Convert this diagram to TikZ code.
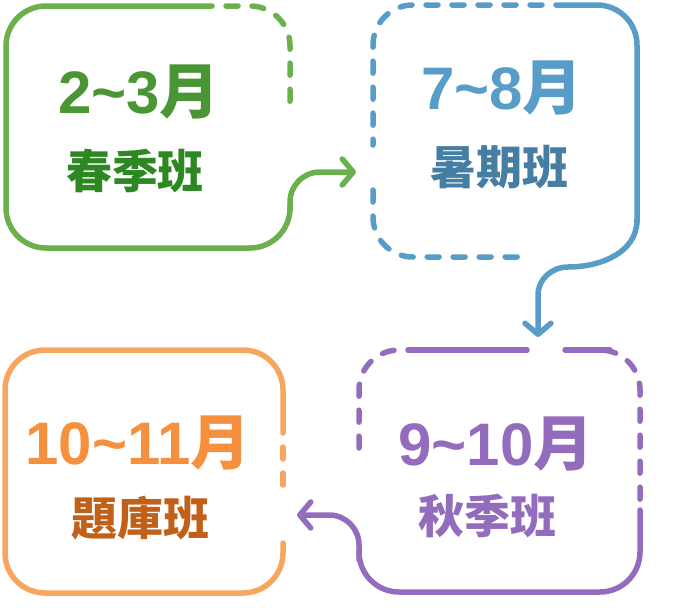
\documentclass[tikz,border=0pt]{standalone}
\usepackage{fontspec}
\setmainfont{Liberation Sans}
\newfontfamily\cjk{Noto Sans CJK TC}
\usetikzlibrary{arrows.meta}
\definecolor{grnline}{RGB}{106,176,76}
\definecolor{grnnum}{RGB}{74,150,52}
\definecolor{grnname}{RGB}{46,136,34}
\definecolor{bluline}{RGB}{88,157,200}
\definecolor{bluname}{RGB}{70,126,163}
\definecolor{purline}{RGB}{148,108,190}
\definecolor{orgline}{RGB}{247,166,96}
\definecolor{orgnum}{RGB}{245,145,62}
\definecolor{orgname}{RGB}{193,96,24}
\begin{document}
\begin{tikzpicture}[x=1pt,y=-1pt, line join=round, line cap=round,
    box/.style={line width=5.5pt, rounded corners=40},
    brokenline/.style={dash pattern=on 12pt off 14pt},
    pointer/.style={-{Straight Barb[round,length=11pt,width=26pt]}},
    months/.style={font=\fontsize{60}{60}\selectfont\bfseries},
    course/.style={font=\fontsize{46}{46}\selectfont\cjk\bfseries}]
    \useasboundingbox (0,0) rectangle (678,608);
    % spring: 2~3
    \draw[grnline,box] (212,6) -- (6,6) -- (6,248) -- (290,248) -- (290,205);
    \draw[grnline,box,brokenline,dash phase=12pt] (212,6) -- (290,6) -- (290,102);
    \draw[grnline,box,rounded corners=30,pointer] (290,210) -- (290,172) -- (356,172);
    \node[months,text=grnnum] (springM) at (139,92) {2\textasciitilde3{\cjk 月}};
    \node[course,text=grnname] (springC) at (135,171) {春季班};
    % summer: 7~8
    \draw[bluline,box,brokenline,dash phase=12pt] (556,5) -- (373,5) -- (373,145);
    \draw[bluline,box,brokenline] (373,190) -- (373,257) -- (523,257);
    \draw[bluline,box] (556,5) -- (637,5) -- (637,222);
    \draw[bluline,box,sharp corners,pointer] (637,220) to[out=-90,in=0] (568,267)
        to[out=180,in=90] (538,295) -- (538,337);
    \node[months,text=bluline] (summerM) at (502,88) {7\textasciitilde8{\cjk 月}};
    \node[course,text=bluname] (summerC) at (499,167) {暑期班};
    % autumn: 9~10
    \draw[purline,box,brokenline,dash phase=12pt] (408,350) -- (359,350) -- (359,448);
    \draw[purline,box] (408,350) -- (527,350);
    \draw[purline,box] (565,350) -- (610,350);
    \draw[purline,box,brokenline,dash phase=12pt] (610,350) -- (640,350) -- (640,503);
    \draw[purline,box] (640,510) -- (640,592) -- (359,592) -- (359,555);
    \draw[purline,box,rounded corners=30,pointer] (359,560) -- (359,515) -- (297,515);
    \node[months,text=purline] (autumnM) at (496,444) {9\textasciitilde10{\cjk 月}};
    \node[course,text=purline] (autumnC) at (487,516) {秋季班};
    % bank: 10~11
    \draw[orgline,box] (283,433) -- (283,350) -- (5,350) -- (5,593) -- (283,593) -- (283,543);
    \draw[orgline,box,brokenline,dash phase=12pt] (283,433) -- (283,488);
    \node[months,text=orgnum] (bankM) at (138,443) {10\textasciitilde11{\cjk 月}};
    \node[course,text=orgname] (bankC) at (140,518) {題庫班};
\end{tikzpicture}
\end{document}
